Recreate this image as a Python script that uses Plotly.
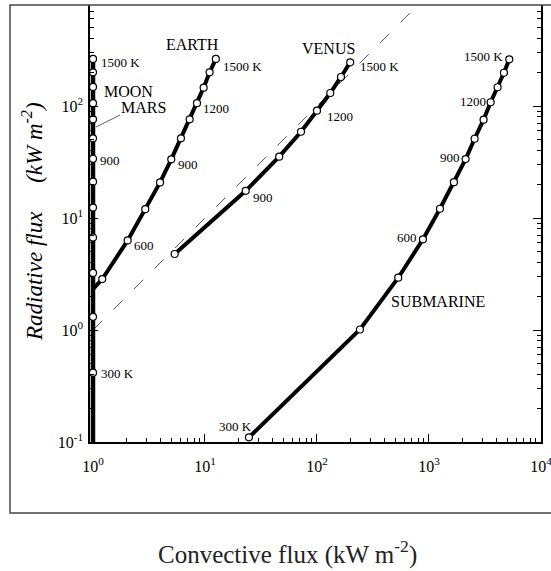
import plotly.graph_objects as go

# ---------------- data ----------------
moon_conv = [1, 1, 1, 1, 1, 1, 1, 1, 1, 1, 1, 1, 1]
moon_rad = [0.416, 1.31, 3.23, 6.7, 12.4, 21.1, 33.8, 51.5, 76, 106, 148, 200, 263]
moon_base = [1, 0.1]  # line continues down to the x axis

earth_conv = [1.21, 2.04, 2.93, 3.97, 5.0, 6.1, 7.3, 8.48, 9.73, 11.0, 12.5]
earth_rad = [2.85, 6.3, 12.0, 20.8, 33.4, 51.5, 76, 106, 145.7, 200, 263]
earth_start = [1.0, 2.32]  # unmarked start of the line on the left axis

venus_conv = [5.36, 23.1, 46, 72, 100, 131.5, 163.8, 198]
venus_rad = [4.77, 17.5, 35.3, 58.9, 90.8, 130.6, 181.6, 245.6]

sub_conv = [24.7, 242, 532, 884, 1254, 1671, 2125, 2557, 3075, 3555, 4100, 4673, 5213]
sub_rad = [0.110, 1.01, 2.93, 6.45, 12.1, 20.9, 33.6, 51, 75.5, 108, 147, 198, 261]

diag = [1, 1000]  # radiative = convective

x_tickvals = [1, 10, 100, 1000, 10000]
x_ticktext = ["10<sup>0</sup>", "10<sup>1</sup>", "10<sup>2</sup>", "10<sup>3</sup>", "10<sup>4</sup>"]
y_tickvals = [0.1, 1, 10, 100]
y_ticktext = ["10<sup>-1</sup>", "10<sup>0</sup>", "10<sup>1</sup>", "10<sup>2</sup>"]

# ---------------- layout geometry ----------------
W, H = 551, 571
L, R, T, B = 90, 10, 5, 129
PW, PH = W - L - R, H - T - B
DEC = 112.0
x_range = [-3 / DEC, -3 / DEC + PW / DEC + 0.0005]
y_range = [-1, -1 + PH / DEC]


def P(px, py):
    return (px - L) / PW, (H - B - py) / PH


SERIF = "Liberation Serif, Times New Roman, serif"

fig = go.Figure()

# dashed 1:1 line
fig.add_trace(go.Scatter(x=diag, y=diag, mode="lines",
                         line=dict(color="#555", width=1, dash="13px,16px"),
                         hoverinfo="skip", showlegend=False))

# lines
fig.add_trace(go.Scatter(x=[moon_base[0]] + moon_conv, y=[moon_base[1]] + moon_rad, mode="lines",
                         line=dict(color="black", width=4.5), showlegend=False))
fig.add_trace(go.Scatter(x=[earth_start[0]] + earth_conv, y=[earth_start[1]] + earth_rad, mode="lines",
                         line=dict(color="black", width=4), showlegend=False))
fig.add_trace(go.Scatter(x=venus_conv, y=venus_rad, mode="lines",
                         line=dict(color="black", width=4), showlegend=False))
fig.add_trace(go.Scatter(x=sub_conv, y=sub_rad, mode="lines",
                         line=dict(color="black", width=4), showlegend=False))

# markers
mk = dict(symbol="circle", size=7, color="white", line=dict(color="black", width=1.2))
for xs, ys in [(moon_conv, moon_rad), (earth_conv, earth_rad), (venus_conv, venus_rad), (sub_conv, sub_rad)]:
    fig.add_trace(go.Scatter(x=xs, y=ys, mode="markers", marker=mk, cliponaxis=False, showlegend=False))

# labels (text, px, py, xanchor, size)
labels = [
    ("1500 K", 100, 62, "left", 13), ("900", 99, 161, "left", 13), ("300 K", 100, 373, "left", 13),
    ("MOON", 103, 91, "left", 16), ("MARS", 120, 107, "left", 16),
    ("EARTH", 165, 44, "left", 16),
    ("1500 K", 222, 66, "left", 13), ("1200", 202, 108, "left", 13),
    ("900", 177, 164, "left", 13), ("600", 133, 245, "left", 13),
    ("VENUS", 301, 48, "left", 16),
    ("1500 K", 359, 66, "left", 13), ("1200", 326, 117, "left", 13), ("900", 252, 197, "left", 13),
    ("1500 K", 504, 57, "right", 13), ("1200", 487, 102, "right", 13), ("900", 461, 157, "right", 13),
    ("600", 418, 237, "right", 13), ("300 K", 253, 426, "right", 13),
    ("SUBMARINE", 390, 301, "left", 16),
]
anns = []
for txt, px, py, xa, sz in labels:
    xp, yp = P(px, py)
    anns.append(dict(text=txt, x=xp, y=yp, xref="paper", yref="paper", xanchor=xa, yanchor="middle",
                     showarrow=False, font=dict(family=SERIF, size=sz, color="black"), borderpad=0))

# y title
xp, yp = P(33, 222)
anns.append(dict(text="<i>Radiative flux\u00a0\u00a0\u00a0\u00a0 (kW m<sup>-2</sup>)</i>", x=xp, y=yp,
                 xref="paper", yref="paper", textangle=-90, showarrow=False,
                 xanchor="center", yanchor="middle", font=dict(family=SERIF, size=23, color="black")))
# caption
xp, yp = P(287, 570)
anns.append(dict(text="Convective flux (kW m<sup>-2</sup>)", x=xp, y=yp, xref="paper", yref="paper",
                 showarrow=False, xanchor="center", yanchor="bottom", borderpad=0,
                 font=dict(family=SERIF, size=25, color="#222")))

shapes = []
bx0, by0 = P(10, 513)
bx1, by1 = P(553, 5)
shapes.append(dict(type="rect", xref="paper", yref="paper", x0=bx0, y0=by0, x1=bx1, y1=by1,
                   line=dict(color="#444", width=1.5), fillcolor="rgba(0,0,0,0)", layer="above"))
lx0, ly0 = P(120, 115)
lx1, ly1 = P(96, 127)
shapes.append(dict(type="line", xref="paper", yref="paper", x0=lx0, y0=ly0, x1=lx1, y1=ly1,
                   line=dict(color="#333", width=0.8)))

minor_x = [m * 10 ** e for e in range(0, 4) for m in range(2, 10)]
minor_y = [m * 10 ** e for e in range(-1, 3) for m in range(2, 10)]

fig.update_layout(
    width=W, height=H,
    margin=dict(l=L, r=R, t=T, b=B, pad=0, autoexpand=False),
    paper_bgcolor="white", plot_bgcolor="white",
    showlegend=False,
    xaxis=dict(type="log", range=x_range, showgrid=False, zeroline=False, automargin=False,
               ticks="inside", ticklen=8, tickwidth=1.2, tickcolor="black",
               tickmode="array", tickvals=x_tickvals, ticktext=x_ticktext,
               minor=dict(tickmode="array", tickvals=minor_x, ticks="inside", ticklen=4,
                          tickwidth=1, tickcolor="black", showgrid=False),
               showline=True, linecolor="black", linewidth=1.5, mirror=False,
               ticklabeloverflow="allow",
               tickfont=dict(family=SERIF, size=16, color="black"), ticklabelstandoff=9),
    yaxis=dict(type="log", range=y_range, showgrid=False, zeroline=False, automargin=False,
               ticks="inside", ticklen=8, tickwidth=1.2, tickcolor="black",
               tickmode="array", tickvals=y_tickvals, ticktext=y_ticktext,
               minor=dict(tickmode="array", tickvals=minor_y, ticks="inside", ticklen=4,
                          tickwidth=1, tickcolor="black", showgrid=False),
               showline=True, linecolor="black", linewidth=1.5, mirror="ticks",
               tickfont=dict(family=SERIF, size=16, color="black"), ticklabelstandoff=2),
    annotations=anns,
    shapes=shapes,
)

fig.write_html("out.html")
